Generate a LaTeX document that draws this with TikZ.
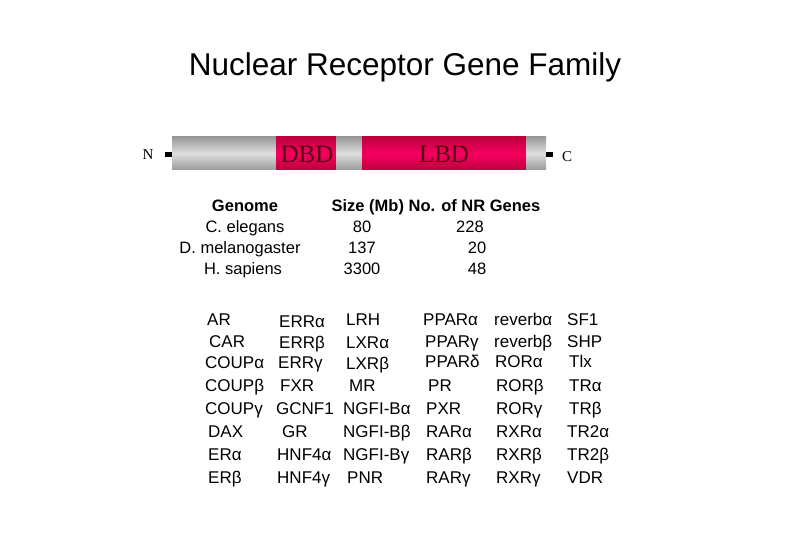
\documentclass[tikz,border=0pt]{standalone}
\usepackage{fontspec}
\setmainfont{Liberation Sans}
\newfontfamily\serifx{Liberation Serif}
\definecolor{pk}{RGB}{245,0,95}
\definecolor{pkd}{RGB}{190,0,60}
\begin{document}
\begin{tikzpicture}[x=1pt,y=-1pt,
  lbl/.style={anchor=base west,inner sep=0pt,font=\fontsize{17}{19}\selectfont},
  hd/.style={anchor=base,inner sep=0pt,font=\fontsize{16.5}{18}\selectfont\bfseries},
  tx/.style={anchor=base,inner sep=0pt,font=\fontsize{16.5}{18}\selectfont},
  graybar/.style={top color=gray!80,bottom color=gray!80,middle color=gray!25,draw=none},
  pinkbar/.style={top color=pkd,bottom color=pkd,middle color=pk,draw=none},
  dom/.style={anchor=base,inner sep=0pt,font=\serifx\fontsize{25}{26}\selectfont,text={rgb,255:red,80;green,0;blue,15}},
  term/.style={anchor=base,inner sep=0pt,font=\serifx\fontsize{15}{16}\selectfont}]
\useasboundingbox (0,0) rectangle (810,540);
\node[inner sep=0pt,font=\fontsize{31.5}{34}\selectfont] (title) at (405,67) {Nuclear Receptor Gene Family};
% bar
\shade[graybar] (172,137) rectangle (276,170);
\shade[pinkbar] (276,137) rectangle (336,170);
\shade[graybar] (336,137) rectangle (362,170);
\shade[pinkbar] (362,137) rectangle (526,170);
\shade[graybar] (526,137) rectangle (546,170);
\fill (165,152) rectangle (172,157);
\fill (546,152) rectangle (553,157);
\node[term] (N) at (148,160) {N};
\node[term] (C) at (567,161) {C};
\node[dom] (dbd) at (307,163) {DBD};
\node[dom] (lbd) at (444,163) {LBD};
% genome table
\node[hd] (g0) at (245,211) {Genome};
\node[tx] (g1) at (245,232) {C. elegans};
\node[tx] (g2) at (240,253) {D. melanogaster};
\node[tx] (g3) at (243,274) {H. sapiens};
\node[hd] (s0) at (436,211) {Size (Mb) No. of NR Genes};
\node[tx] (s1) at (362,232) {80};
\node[tx] (s2) at (362,253) {137};
\node[tx] (s3) at (362,274) {3300};
\node[tx] (n1) at (470,232) {228};
\node[tx] (n2) at (477,253) {20};
\node[tx] (n3) at (477,274) {48};
% gene list
\node[lbl] (a1) at (207,325) {AR};
\node[lbl] (a2) at (209,347) {CAR};
\node[lbl] (a3) at (205,368) {COUPα};
\node[lbl] (a4) at (205,391) {COUPβ};
\node[lbl] (a5) at (205,414) {COUPγ};
\node[lbl] (a6) at (208,437) {DAX};
\node[lbl] (a7) at (208,460) {ERα};
\node[lbl] (a8) at (208,483) {ERβ};
\node[lbl] (b1) at (279,327) {ERRα};
\node[lbl] (b2) at (279,348) {ERRβ};
\node[lbl] (b3) at (278,368) {ERRγ};
\node[lbl] (b4) at (280,391) {FXR};
\node[lbl] (b5) at (276,414) {GCNF1};
\node[lbl] (b6) at (282,437) {GR};
\node[lbl] (b7) at (277,460) {HNF4α};
\node[lbl] (b8) at (277,483) {HNF4γ};
\node[lbl] (c1) at (346,325) {LRH};
\node[lbl] (c2) at (346,348) {LXRα};
\node[lbl] (c3) at (346,369) {LXRβ};
\node[lbl] (c4) at (349,391) {MR};
\node[lbl] (c5) at (343,414) {NGFI-Bα};
\node[lbl] (c6) at (343,437) {NGFI-Bβ};
\node[lbl] (c7) at (343,460) {NGFI-Bγ};
\node[lbl] (c8) at (347,483) {PNR};
\node[lbl] (d1) at (423,325) {PPARα};
\node[lbl] (d2) at (425,347) {PPARγ};
\node[lbl] (d3) at (425,367) {PPARδ};
\node[lbl] (d4) at (428,391) {PR};
\node[lbl] (d5) at (426,414) {PXR};
\node[lbl] (d6) at (426,437) {RARα};
\node[lbl] (d7) at (426,460) {RARβ};
\node[lbl] (d8) at (426,483) {RARγ};
\node[lbl] (e1) at (494,325) {reverbα};
\node[lbl] (e2) at (494,347) {reverbβ};
\node[lbl] (e3) at (495,367) {RORα};
\node[lbl] (e4) at (496,391) {RORβ};
\node[lbl] (e5) at (496,414) {RORγ};
\node[lbl] (e6) at (496,437) {RXRα};
\node[lbl] (e7) at (496,460) {RXRβ};
\node[lbl] (e8) at (496,483) {RXRγ};
\node[lbl] (f1) at (567,325) {SF1};
\node[lbl] (f2) at (567,347) {SHP};
\node[lbl] (f3) at (569,367) {Tlx};
\node[lbl] (f4) at (569,391) {TRα};
\node[lbl] (f5) at (569,414) {TRβ};
\node[lbl] (f6) at (567,437) {TR2α};
\node[lbl] (f7) at (567,460) {TR2β};
\node[lbl] (f8) at (567,483) {VDR};
\end{tikzpicture}
\end{document}
